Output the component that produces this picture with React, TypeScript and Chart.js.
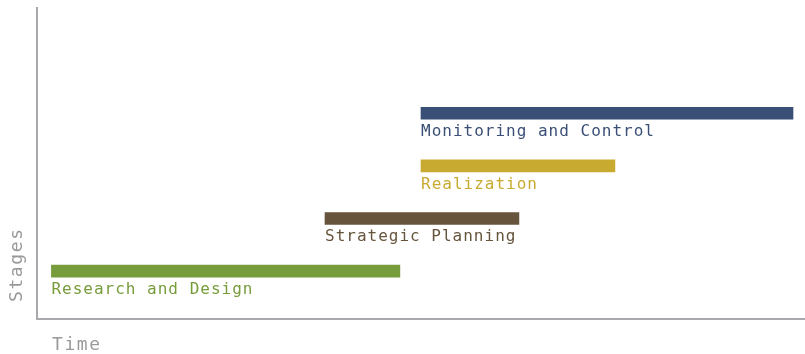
import React, { useEffect, useRef } from "react";
import { Chart, registerables } from "chart.js";

Chart.register(...registerables);

const stages = ["Research and Design", "Strategic Planning", "Realization", "Monitoring and Control"];
const stageLevels = [1, 2, 3, 4];
const startTimes = [0.15, 3.0, 4.0, 4.0];
const endTimes = [3.78, 5.02, 6.02, 7.875];
const stageColors = ["#779c3b", "#66543d", "#c9aa30", "#3a4f75"];
const xTitle = "Time";
const yTitle = "Stages";

const FONT = '"DejaVu Sans Mono", monospace';

const labelPlugin = {
  id: "stageLabels",
  afterDatasetsDraw(chart: any) {
    const ctx = chart.ctx;
    const meta = chart.getDatasetMeta(0);
    ctx.save();
    ctx.font = `16px ${FONT}`;
    (ctx as any).letterSpacing = "1px";
    ctx.textAlign = "left";
    ctx.textBaseline = "alphabetic";
    meta.data.forEach((el: any, i: number) => {
      const left = Math.min(el.base, el.x);
      const bottom = el.y + el.height / 2;
      ctx.fillStyle = stageColors[i];
      ctx.fillText(stages[i], left, bottom + 17);
    });
    ctx.restore();
  },
  afterDraw(chart: any) {
    const ctx = chart.ctx;
    const area = chart.chartArea;
    ctx.save();
    ctx.font = `18px ${FONT}`;
    (ctx as any).letterSpacing = "1.6px";
    ctx.fillStyle = "#9a9a9a";
    ctx.textAlign = "left";
    ctx.textBaseline = "alphabetic";
    ctx.fillText(xTitle, area.left + 15, area.bottom + 31);
    ctx.translate(area.left - 15, area.bottom - 17);
    ctx.rotate(-Math.PI / 2);
    ctx.fillText(yTitle, 0, 0);
    ctx.restore();
  },
};

export default function App() {
  const ref = useRef<HTMLCanvasElement | null>(null);
  useEffect(() => {
    if (!ref.current) return;
    const chart = new Chart(ref.current, {
      type: "bar",
      data: {
        datasets: [
          {
            data: stageLevels.map((lvl, i) => ({ x: [startTimes[i], endTimes[i]], y: lvl })) as any,
            backgroundColor: stageColors,
            barThickness: 12,
            borderWidth: 0,
          },
        ],
      },
      options: {
        indexAxis: "y",
        animation: false,
        responsive: true,
        maintainAspectRatio: false,
        layout: { padding: { left: 29, top: 8, right: 0, bottom: 27 } },
        plugins: { legend: { display: false }, tooltip: { enabled: false } },
        scales: {
          x: {
            type: "linear",
            min: 0,
            max: 8,
            offset: false,
            grid: { display: false },
            ticks: { display: false },
            border: { display: true, color: "#a9a9ad", width: 2 },
          },
          y: {
            type: "linear",
            min: 0.09,
            max: 6,
            offset: false,
            grid: { display: false },
            ticks: { display: false },
            border: { display: true, color: "#a9a9ad", width: 2 },
          },
        },
      },
      plugins: [labelPlugin],
    });
    return () => chart.destroy();
  }, []);
  return (
    <div style={{ position: "fixed", left: 0, top: 0, width: 805, height: 354, background: "#fff" }}>
      <canvas ref={ref} />
    </div>
  );
}
